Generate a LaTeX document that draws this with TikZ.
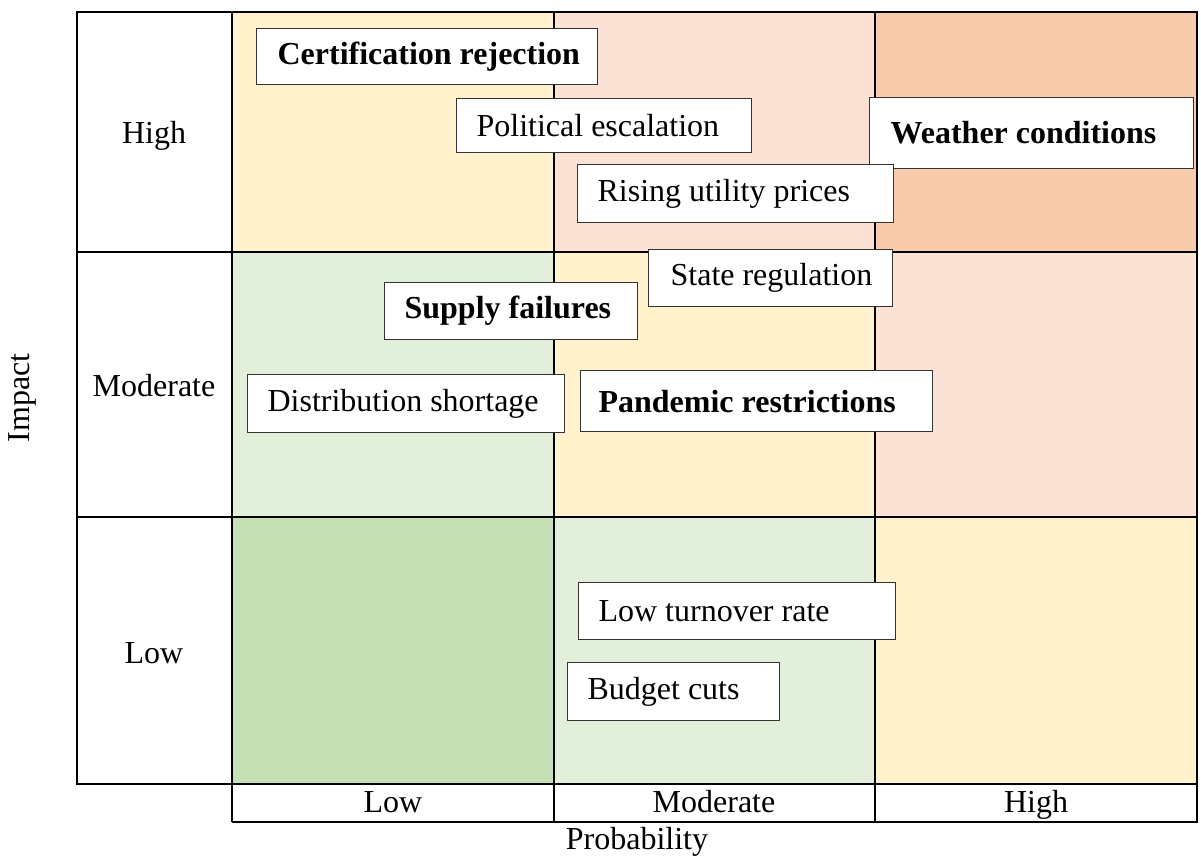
\documentclass[tikz,border=0pt]{standalone}
\usepackage{fontspec}
\setmainfont{Liberation Serif}
\definecolor{cYel}{HTML}{FFF2CC}
\definecolor{cPeach}{HTML}{FBE2D5}
\definecolor{cOrange}{HTML}{F8CBAD}
\definecolor{cLGreen}{HTML}{E2EFDA}
\definecolor{cGreen}{HTML}{C5E0B4}
\tikzset{
  gridline/.style={draw=black, line width=1pt},
  riskbox/.style={draw=black!80, line width=0.6pt, fill=white, anchor=north west,
    inner xsep=0pt, inner ysep=0pt},
  axislabel/.style={inner sep=0pt, anchor=base},
}
\newcommand{\rtext}[3]{\makebox[#1][l]{\hspace*{#2}#3}}
\begin{document}
\begin{tikzpicture}[x=0.5pt, y=-0.5pt, font=\fontsize{16}{19}\selectfont]
\useasboundingbox (0,0) rectangle (1201,857);
% cells
\fill[cYel]    (232,12)  rectangle (554,252);
\fill[cPeach]  (554,12)  rectangle (875,252);
\fill[cOrange] (875,12)  rectangle (1197,252);
\fill[cLGreen] (232,252) rectangle (554,517);
\fill[cYel]    (554,252) rectangle (875,517);
\fill[cPeach]  (875,252) rectangle (1197,517);
\fill[cGreen]  (232,517) rectangle (554,784);
\fill[cLGreen] (554,517) rectangle (875,784);
\fill[cYel]    (875,517) rectangle (1197,784);
% grid
\draw[gridline] (77,12) rectangle (1197,784);
\draw[gridline] (232,12) -- (232,822);
\draw[gridline] (554,12) -- (554,822);
\draw[gridline] (875,12) -- (875,822);
\draw[gridline] (77,252) -- (1197,252);
\draw[gridline] (77,517) -- (1197,517);
\draw[gridline] (232,822) -- (1197,822) -- (1197,784);
% row labels
\node[axislabel] (rHigh) at (154,143) {High};
\node[axislabel] (rMod) at (154,396) {Moderate};
\node[axislabel] (rLow) at (154,663) {Low};
% column labels
\node[axislabel] (cLow) at (393,812) {Low};
\node[axislabel] (cMod) at (714,812) {Moderate};
\node[axislabel] (cHigh) at (1036,812) {High};
% axis titles
\node[axislabel] (prob) at (637,849) {Probability};
\node[inner sep=0pt, rotate=90] (impact) at (22,398) {Impact};
% risk boxes
\node[riskbox, minimum height=28pt] (cert) at (256,28) {\rtext{170.5pt}{10.5pt}{\textbf{Certification rejection}}};
\node[riskbox, minimum height=27pt] (pol) at (456,98) {\rtext{147.5pt}{10pt}{Political escalation}};
\node[riskbox, minimum height=35.5pt] (weather) at (869,97) {\rtext{162pt}{10.5pt}{\textbf{Weather conditions}}};
\node[riskbox, minimum height=29pt] (rise) at (577,164) {\rtext{158pt}{10pt}{Rising utility prices}};
\node[riskbox, minimum height=28.5pt] (state) at (648,249) {\rtext{122pt}{11pt}{State regulation}};
\node[riskbox, minimum height=28.5pt] (supply) at (384,282) {\rtext{126.5pt}{10pt}{\textbf{Supply failures}}};
\node[riskbox, minimum height=29pt] (distr) at (247,374) {\rtext{158.5pt}{10pt}{Distribution shortage}};
\node[riskbox, minimum height=30.5pt] (pand) at (580,370) {\rtext{176pt}{9pt}{\textbf{Pandemic restrictions}}};
\node[riskbox, minimum height=28.5pt] (turn) at (578,582) {\rtext{158.5pt}{10pt}{Low turnover rate}};
\node[riskbox, minimum height=29pt] (budget) at (567,662) {\rtext{106pt}{10pt}{Budget cuts}};
\end{tikzpicture}
\end{document}
